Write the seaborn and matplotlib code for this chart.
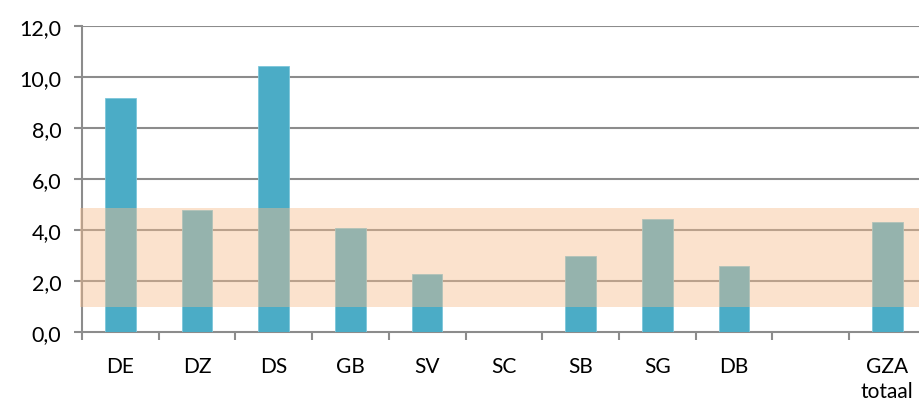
import matplotlib
matplotlib.use("Agg")
import matplotlib.pyplot as plt
import seaborn as sns
import numpy as np
import pandas as pd

categories = ["DE", "DZ", "DS", "GB", "SV", "SC", "SB", "SG", "DB", " ", "GZA\ntotaal"]
values = [9.18, 4.78, 10.43, 4.07, 2.26, 0.0, 2.99, 4.43, 2.58, np.nan, 4.31]
band_low, band_high = 0.98, 4.86
y_ticks = [0, 2, 4, 6, 8, 10, 12]
y_tick_labels = ["0,0", "2,0", "4,0", "6,0", "8,0", "10,0", "12,0"]

df = pd.DataFrame({"cat": categories, "val": values})

sns.set_theme(style="white")
plt.rcParams["font.family"] = ["Lato", "DejaVu Sans"]

W, H = 919, 410
fig = plt.figure(figsize=(W / 100, H / 100), dpi=100)
left, right, top, bottom = 82, 925.7, 27, 333
ax = fig.add_axes([left / W, (H - bottom) / H, (right - left) / W, (bottom - top) / H])

grid_c = "#8c8c8c"
for y in y_ticks[1:]:
    ax.axhline(y, color=grid_c, lw=1.5, zorder=0)

sns.barplot(data=df, x="cat", y="val", order=categories, color="#4BACC6",
            saturation=1, width=0.4, edgecolor="#7cc6da", linewidth=0.6,
            ax=ax, zorder=2)

n = len(categories)
ax.fill_between([-0.53, n - 0.5], band_low, band_high, color="#F6BE8E",
                alpha=0.44, lw=0, zorder=3, clip_on=False)

ax.set_xlim(-0.5, n - 0.5)
ax.set_ylim(0, 12)
ax.set_xlabel("")
ax.set_ylabel("")

ax.set_yticks(y_ticks)
ax.set_yticklabels(y_tick_labels)
ax.set_xticks(range(n))
ax.set_xticklabels(categories, linespacing=1.35, va="top")
ax.set_xticks(np.arange(-0.5, n, 1), minor=True)

ax.tick_params(axis="x", which="major", length=0, pad=17, labelsize=15, colors="black")
ax.tick_params(axis="x", which="minor", length=6, width=1.5, color=grid_c, direction="out", bottom=True)
ax.tick_params(axis="y", which="major", length=6, width=1.5, color=grid_c, direction="out",
               pad=9, labelsize=15.5, left=True, labelcolor="black")

for s in ["top", "right"]:
    ax.spines[s].set_visible(False)
for s in ["left", "bottom"]:
    ax.spines[s].set_color(grid_c)
    ax.spines[s].set_linewidth(1.5)
    ax.spines[s].set_zorder(1)

fig.savefig("out.png", dpi=100)
